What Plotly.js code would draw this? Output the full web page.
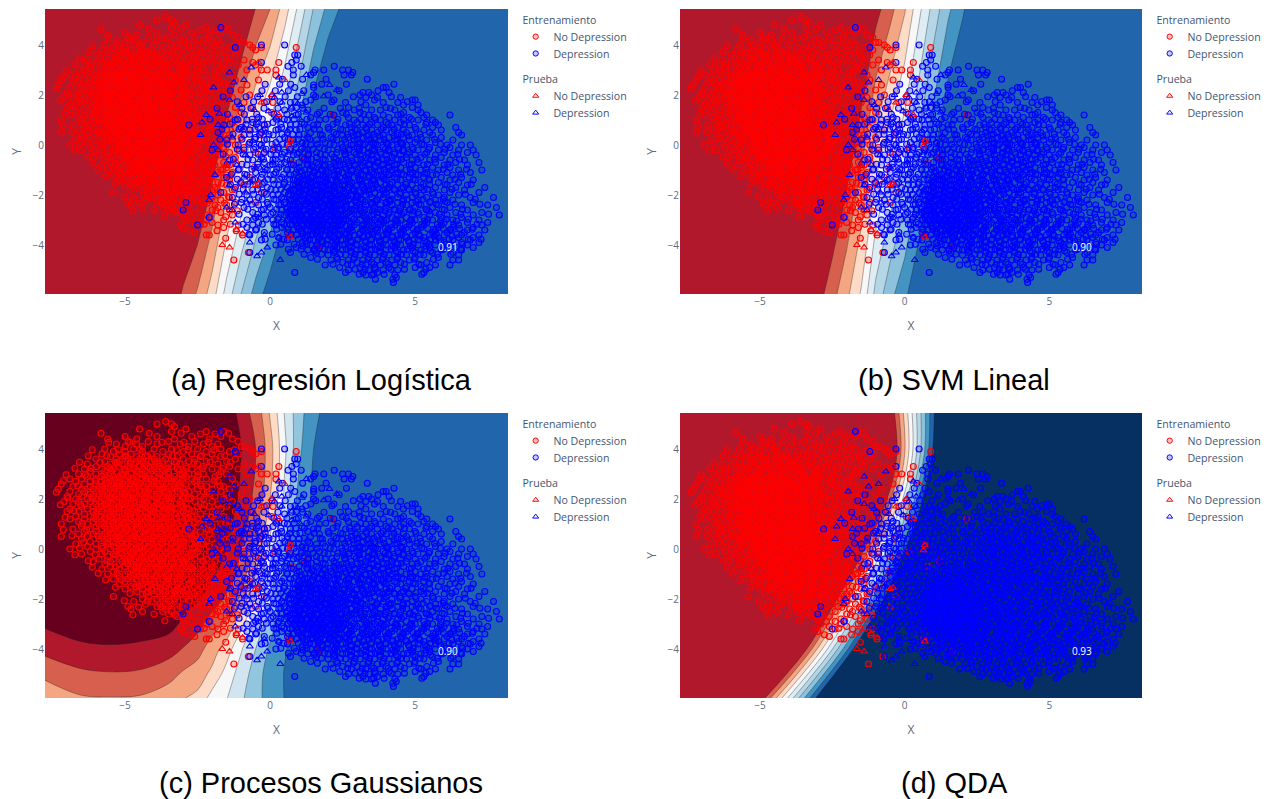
<!DOCTYPE html>
<html><head><meta charset="utf-8">
<script src="https://cdn.plot.ly/plotly-3.0.1.min.js"></script>
<style>html,body{margin:0;padding:0;background:#fff}</style></head>
<body><div id="g" style="width:1270px;height:799px"></div>
<script>
const captions=["(a) Regresión Logística","(b) SVM Lineal","(c) Procesos Gaussianos","(d) QDA"];
const scores=["0.91","0.90","0.90","0.93"];
const palA=["#b2182b","#d6604d","#f4a582","#fddbc7","#f7f7f7","#deecf4","#b4d6e7","#8ec2dc","#4393c3","#2166ac"];
const palC=["#67001f","#b2182b","#d6604d","#f4a582","#fddbc7","#f7f7f7","#d1e5f0","#92c5de","#4393c3","#2166ac"];
const palD=["#b2182b","#d6604d","#f4a582","#fddbc7","#f7f7f7","#deecf4","#b4d6e7","#8ec2dc","#4393c3","#2166ac","#053061"];
const linX=[-7.76,-3.5,-3,-2.5,-2,-1.5,-1,-.5,0,.5,1,1.5,2,2.5,3,8.2];
const linY=[-5.96,5.44];
const zA=[[-12.1,-.2,1.2,2.13,3.5,5.39,7,8.4,9.6,11,12.3,13.8,15.2,16.6,18,32.5],
[-18.5,-7.05,-5.7,-4.35,-3,-1.65,-.3,1.04,2,3.5,5.3,7.06,8.3,9.24,10.6,24.6]];
const zB=[[-12.3,-.8,.54,1.63,2.76,4.11,6.29,7.68,8.73,10,11.3,12.7,14,15.4,16.7,30.7],
[-17.6,-6.1,-4.8,-3.4,-2.1,-.7,.62,1.65,2.89,4.75,6.4,7.8,8.81,10.1,11.4,25.5]];
const cX=[-7.76,-6.5,-5.5,-4.5,-3.5,-3,-2.5,-2,-1.5,-1,-.5,-.25,0,.25,.5,.75,1,1.5,2,8.2];
const cY=[-5.96,-5,-4,-3,-2,-1,0,1,2,4,5.44];
const zC=[
[3.7,3.1,3.05,3.1,3.6,3.95,4.25,5.4,5.95,6.83,7.65,8.04,8.37,8.7,9.03,9.2,9.4,9.5,9.6,9.9],
[2.75,2.2,2.08,2.15,2.6,3.15,3.5,4.25,5.4,6.47,7.46,8,8.35,8.7,9.05,9.2,9.4,9.5,9.6,9.9],
[1.7,1.25,1.15,1.25,1.6,2.05,2.62,3.5,4.5,5.9,7,7.62,8.15,8.54,8.92,9.2,9.35,9.5,9.6,9.9],
[.85,.4,.3,.4,.6,1.2,1.65,2.55,3.15,4.67,6.25,6.88,7.57,8.18,8.61,9.05,9.3,9.5,9.6,9.9],
[.3,.2,.1,.1,.3,.6,.9,1.4,2.2,3.2,5.16,6,6.83,7.8,8.42,8.94,9.2,9.45,9.6,9.9],
[.1,.1,.1,.1,.1,.2,.4,.85,1.4,2.44,4,5,6.25,7.4,8.22,8.78,9.1,9.45,9.6,9.9],
[.1,.1,.1,.1,.1,.1,.2,.3,1,2,3.2,4.25,5.5,6.75,7.8,8.44,9,9.4,9.6,9.9],
[.1,.1,.1,.1,.1,.1,.15,.2,.7,1.5,2.71,3.6,4.6,5.75,7,8.11,8.67,9.3,9.5,9.9],
[.1,.1,.1,.1,.1,.1,.1,.2,.4,1.2,2.29,3,4,5,6.25,7.5,8.33,9.2,9.5,9.9],
[.1,.1,.1,.1,.1,.1,.1,.2,.4,.95,2,2.71,3.6,4.68,5.78,6.8,7.8,9,9.4,9.9],
[.1,.1,.1,.1,.1,.1,.1,.15,.3,1.39,2.46,3.12,4.11,5.04,6.06,6.87,7.6,8.78,9.3,9.9]];
const dX=[-7.76,8.2];
const dY=[-5.96,-5,-4,-3,-2,-1,0,1,2,3,4,5.44];
const zD=[[-14.13,68.03],[-19.04,67.81],[-23.53,65.88],[-26.61,62.79],[-29.41,59.99],[-34.25,60.75],[-39.41,61.92],[-45.32,63.26],[-51.39,65.53],[-55.36,66.24],[-53.95,62.97],[-47.68,57.15]];
// scatter readings: each row is [y, x, x, ...]
const redTrainRows=[
[5.1,-3.6],[5,-3.9,-3.4],[4.9,-3.3],[4.8,-4.5,-2.9],[4.7,-3.4,-2.2,-1.6],[4.6,-2.4,-1.9],[4.5,-5,-3.9,-2.7,-1.7],[4.4,-5.6,-4.6,-3.3,-2.1,-1.3],[4.3,-4.9,-4.2,-3.5,-2.6,-1.1],[4.2,-5.3,-4.6,-3.9,-3.1,-2.3,-1.8],[4.1,-5,-4.4,-2.8,-2,-1,-.9],[4,-5.7,-4.7,-4,-3.4,-2.5,-1.7,-.7],[3.9,-5.4,-5,-4.4,-3.7,-3,-2.2,-1.4,-.6],[3.8,-5.8,-5.2,-4.8,-4.1,-3.5,-2.7,-2,-1.1,-.5],[3.7,-5.5,-5,-4.6,-4.3,-3.9,-3.2,-2.4,-1.7],[3.6,-6,-5.3,-4.9,-4.5,-4,-3.6,-3,-2.6,-1.9,-1.2],[3.5,-5.7,-5.2,-4.8,-4.4,-4.1,-3.7,-3.3,-2.8,-2.2,-1.5],[3.4,-6.3,-5.5,-5.1,-4.7,-4.3,-3.9,-3.5,-3.1,-2.5,-1.8,-.9],[3.3,-6,-5.6,-5.2,-4.9,-4.5,-4.2,-3.8,-3.4,-2.9,-2.3,-1.4,-.6],[3.2,-6.4,-5.8,-5.4,-5,-4.7,-4.4,-4,-3.7,-3.2,-2.7,-2,-1.1,-.5],[3.1,-6.2,-5.7,-5.3,-5,-4.6,-4.3,-3.9,-3.5,-3,-2.5,-1.7],
[3,-6.6,-6,-5.5,-5.1,-4.8,-4.5,-4.2,-3.8,-3.5,-3.1,-2.8,-2.3,-1.5,-.8,-.3],[2.9,-6.3,-5.8,-5.4,-5.2,-4.9,-4.6,-4.3,-4,-3.6,-3.3,-2.9,-2.5,-1.9],[2.8,-6.9,-6.5,-6,-5.7,-5.3,-5,-4.7,-4.4,-4.1,-3.8,-3.5,-3.2,-2.7,-2.2,-1.3,.2],[2.7,-6.7,-6.2,-5.8,-5.5,-5.2,-4.9,-4.6,-4.3,-4,-3.7,-3.4,-3,-2.6,-1.8],[2.6,-7.2,-6.4,-6,-5.7,-5.4,-5.1,-4.8,-4.5,-4.2,-3.9,-3.6,-3.3,-2.9,-2.4,-2,-1.2,-.4],[2.5,-6.8,-6.2,-5.9,-5.6,-5.3,-5,-4.7,-4.4,-4.1,-3.8,-3.5,-3.1,-2.7,-2.2,-1.6],[2.4,-7.3,-6.5,-6.1,-5.8,-5.5,-5.2,-4.9,-4.6,-4.3,-4,-3.7,-3.4,-3,-2.5,-2,-1.4,-.8],[2.3,-6.9,-6.4,-6,-5.7,-5.4,-5.1,-4.8,-4.5,-4.2,-3.9,-3.6,-3.2,-2.8,-2.3,-1.7],[2.2,-6.6,-6.2,-5.9,-5.6,-5.3,-5,-4.7,-4.4,-4.1,-3.8,-3.5,-3.1,-2.6,-2.1,-1.5,-1],[2.1,-7,-6.5,-6.1,-5.8,-5.5,-5.2,-4.9,-4.6,-4.3,-4,-3.7,-3.4,-3,-2.4,-1.9],[2,-6.7,-6.3,-6,-5.7,-5.4,-5.1,-4.8,-4.5,-4.2,-3.9,-3.6,-3.2,-2.8,-2.3,-1.6,-.7],[1.9,-7.1,-6.6,-6.2,-5.9,-5.6,-5.3,-5,-4.7,-4.4,-4.1,-3.8,-3.5,-3.1,-2.6,-2,-1.3],[1.8,-6.8,-6.4,-6,-5.7,-5.4,-5.1,-4.8,-4.5,-4.2,-3.9,-3.6,-3.3,-2.9,-2.4,-1.8],[1.7,-6.5,-6.1,-5.8,-5.5,-5.2,-4.9,-4.6,-4.3,-4,-3.7,-3.4,-3,-2.5,-2.1,-1.5,-.9],[1.6,-6.9,-6.3,-5.9,-5.6,-5.3,-5,-4.7,-4.4,-4.1,-3.8,-3.5,-3.2,-2.8,-2.3,-1.7],[1.5,-7,-6.6,-6.1,-5.8,-5.5,-5.2,-4.9,-4.6,-4.3,-4,-3.7,-3.4,-3,-2.6,-2,-1.2,-.6],[1.4,-6.4,-6,-5.7,-5.4,-5.1,-4.8,-4.5,-4.2,-3.9,-3.6,-3.3,-2.9,-2.4,-1.8],[1.3,-6.7,-6.2,-5.9,-5.6,-5.3,-5,-4.7,-4.4,-4.1,-3.8,-3.5,-3.1,-2.7,-2.2,-1.6,-1],[1.2,-6.9,-6.4,-6,-5.7,-5.4,-5.1,-4.8,-4.5,-4.2,-3.9,-3.6,-3.3,-2.9,-2.5,-1.9],[1.1,-6.6,-6.1,-5.8,-5.5,-5.2,-4.9,-4.6,-4.3,-4,-3.7,-3.4,-3,-2.6,-2.1,-1.4],[1,-7.2,-6.3,-5.9,-5.6,-5.3,-5,-4.7,-4.4,-4.1,-3.8,-3.5,-3.2,-2.8,-2.3,-1.7,-1.1],[.9,-6.5,-6,-5.7,-5.4,-5.1,-4.8,-4.5,-4.2,-3.9,-3.6,-3.3,-2.9,-2.5,-2,-1.3],[.8,-6.8,-6.2,-5.8,-5.5,-5.2,-4.9,-4.6,-4.3,-4,-3.7,-3.4,-3.1,-2.7,-2.2,-1.6],[.7,-6.4,-6,-5.6,-5.3,-5,-4.7,-4.4,-4.1,-3.8,-3.5,-3.2,-2.8,-2.4,-1.9,-1.2],[.6,-6.6,-6.1,-5.7,-5.4,-5.1,-4.8,-4.5,-4.2,-3.9,-3.6,-3.3,-3,-2.6,-2.1,-1.5,-.7],[.5,-7.2,-6.3,-5.8,-5.5,-5.2,-4.9,-4.6,-4.3,-4,-3.7,-3.4,-3.1,-2.7,-2.3,-1.8],[.4,-6.5,-5.9,-5.6,-5.3,-5,-4.7,-4.4,-4.1,-3.8,-3.5,-3.2,-2.8,-2.4,-2,-1.4],[.3,-6.2,-5.7,-5.4,-5.1,-4.8,-4.5,-4.2,-3.9,-3.6,-3.3,-3,-2.6,-2.2,-1.7,-1],[.2,-6.7,-6,-5.6,-5.2,-4.9,-4.6,-4.3,-4,-3.7,-3.4,-3.1,-2.7,-2.3,-1.9,-1.3],[.1,-6.3,-5.8,-5.4,-5.1,-4.8,-4.5,-4.2,-3.9,-3.6,-3.3,-3,-2.6,-2.1,-1.6],[0,-6.9,-6,-5.5,-5.2,-4.9,-4.6,-4.3,-4,-3.7,-3.4,-3.1,-2.8,-2.4,-1.9,-1.2],
[-.1,-6.2,-5.7,-5.3,-5,-4.7,-4.4,-4.1,-3.8,-3.5,-3.2,-2.9,-2.5,-2.1,-1.6,-.9],[-.2,-6.5,-5.8,-5.4,-5.1,-4.8,-4.5,-4.2,-3.9,-3.6,-3.3,-3,-2.6,-2.2,-1.8],[-.3,-5.6,-5.2,-4.9,-4.6,-4.3,-4,-3.7,-3.4,-3.1,-2.8,-2.4,-2,-1.4],[-.4,-5.9,-5.4,-5,-4.7,-4.4,-4.1,-3.8,-3.5,-3.2,-2.9,-2.6,-2.2,-1.7],[-.5,-6.1,-5.5,-5.1,-4.8,-4.5,-4.2,-3.9,-3.6,-3.3,-3,-2.7,-2.3,-1.9,-1.2],[-.6,-5.7,-5.2,-4.9,-4.6,-4.3,-4,-3.7,-3.4,-3.1,-2.8,-2.4,-2],[-.7,-5.5,-5,-4.7,-4.4,-4.1,-3.8,-3.5,-3.2,-2.9,-2.6,-2.2,-1.6],[-.8,-5.8,-5.2,-4.8,-4.5,-4.2,-3.9,-3.6,-3.3,-3,-2.7,-2.3,-1.9,-1.4],[-.9,-5.4,-4.9,-4.6,-4.3,-4,-3.7,-3.4,-3.1,-2.8,-2.4,-2,-1.5],[-1,-5.6,-5,-4.7,-4.4,-4.1,-3.8,-3.5,-3.2,-2.9,-2.5,-2.1,-1.7],[-1.1,-5.2,-4.8,-4.5,-4.2,-3.9,-3.6,-3.3,-3,-2.6,-2.2,-1.8,-1.3],[-1.2,-5.4,-4.9,-4.6,-4.3,-4,-3.7,-3.4,-3.1,-2.7,-2.3,-1.9,-1.5],[-1.3,-5,-4.6,-4.3,-4,-3.7,-3.4,-3.1,-2.7,-2.4,-2,-1.6],[-1.4,-5.2,-4.7,-4.4,-4.1,-3.8,-3.5,-3.2,-2.8,-2.5,-2.1,-1.4],[-1.5,-4.8,-4.5,-4.2,-3.9,-3.6,-3.3,-3,-2.6,-2.2,-1.8],[-1.6,-5,-4.4,-4.1,-3.8,-3.5,-3.2,-2.9,-2.5,-2.1,-1.5,-.9],[-1.7,-4.6,-4.2,-3.9,-3.6,-3.3,-3,-2.7,-2.3,-1.9],[-1.8,-4.4,-4,-3.7,-3.4,-3.1,-2.8,-2.4,-2,-1.3],[-1.9,-5.4,-4.2,-3.8,-3.5,-3.2,-2.9,-2.5,-2.1,-1.6],[-2,-4.4,-3.9,-3.6,-3.3,-3,-2.6,-2.2,-1.8],[-2.1,-4.7,-4.1,-3.7,-3.3,-2.8,-2.4,-2,-1.4],[-2.2,-4.3,-3.8,-3.4,-3,-2.5,-2.1,-1.7],[-2.3,-4.9,-3.9,-3.5,-3.1,-2.7,-2.3,-1.2],[-2.4,-4.8,-3.6,-3.2,-2.8,-1.9,-1.5],[-2.5,-4.4,-3.7,-3.4,-2.4,-1.8],[-2.6,-4,-3.5,-3,-2,-1.4],[-2.7,-3.2,-2.6,-1.7],[-2.8,-3,-2.2,-1.3],[-2.9,-2.7,-2.4],[-3,-2.9,-2.2,-1.6],[-3.1,-2.6,-2],[-3.2,-2.4,-1.8,-1.1],[-3.3,-3,-1.6],[-3.5,-2.6],[-3.6,-2.2,-2.1,-.95],[-4.3,-.75],[-4.6,-1.25],[-3.6,.65],[-4.1,1.65],[1.2,2.15],[3.9,-.3,.9],[3.3,.3],[3,-.1,.2],[.2,.7],[-.1,.15],[-.5,1.2],[-.7,.8],[1.7,.1,-.2],[1.3,.05],[.8,-.2],[.4,-.35],[-.3,-.5,-.2],[-.9,-.55],[-1.3,-.7],[-1.9,-.3],[-2.3,-.5]];
const redExtraRows=[
[4.63,-5.83,-4.17,-3.07,-1.43],[4.27,-5.57,-4.83,-3.73,-2.97,-2.13],[3.97,-6.13,-5.23,-4.47,-3.23,-2.83,-1.93,-1.23],[3.73,-6.27,-5.63,-4.97,-4.23,-3.37,-2.37,-1.57],[3.47,-6.57,-5.87,-5.33,-4.63,-3.97,-3.23,-2.63,-2.07,-1.37],[3.23,-6.73,-6.17,-5.53,-4.83,-4.13,-3.57,-2.87,-2.33,-1.63],[2.97,-7.03,-6.37,-5.73,-5.07,-4.37,-3.67,-3.03,-2.47,-1.77],[2.73,-7.13,-6.03,-5.43,-4.77,-4.07,-3.27,-2.53,-1.93],[2.53,-6.63,-5.77,-5.17,-4.53,-3.83,-3.17,-2.37,-1.73],[2.27,-7.37,-6.27,-5.63,-4.93,-4.33,-3.67,-2.97,-2.17],[2.03,-6.97,-6.13,-5.47,-4.87,-4.27,-3.53,-2.73,-1.47],[1.77,-7.23,-6.53,-5.67,-5.03,-4.37,-3.73,-3.07,-2.27],[1.53,-6.77,-5.97,-5.37,-4.73,-4.13,-3.47,-2.67,-1.87],[1.27,-7.07,-6.07,-5.47,-4.83,-4.23,-3.57,-2.83,-2.03],[1.03,-6.47,-5.73,-5.07,-4.57,-3.93,-3.27,-2.43,-1.53],[.77,-7.13,-6.33,-5.53,-4.93,-4.27,-3.63,-2.93,-2.13],[.53,-6.83,-5.93,-5.27,-4.67,-4.03,-3.37,-2.57,-1.67],[.27,-6.43,-5.63,-4.97,-4.33,-3.73,-3.07,-2.33,-1.47],[.03,-6.57,-5.77,-5.13,-4.53,-3.87,-3.23,-2.47,-1.73],[-.23,-6.73,-6.03,-5.33,-4.73,-4.07,-3.43,-2.67,-1.93,-1.07],[-.47,-6.27,-5.63,-4.97,-4.37,-3.77,-3.03,-2.33,-1.53],[-.73,-6.13,-5.33,-4.57,-3.93,-3.33,-2.73,-2.03,-1.17],[-.97,-5.93,-5.27,-4.43,-3.73,-3.07,-2.27,-1.63],[-1.23,-5.67,-5.13,-4.13,-3.53,-2.83,-2.07,-1.37],[-1.53,-5.33,-4.63,-3.77,-3.07,-2.37,-1.67,-1.03],[-1.77,-4.83,-4.27,-3.27,-2.63,-1.83,-1.23],[-2.07,-5.03,-4.23,-3.47,-2.77,-2.03,-1.43],[-2.33,-4.53,-3.73,-3.03,-2.17,-1.57],[-2.63,-4.73,-3.27,-2.83,-1.87,-1.13],[-2.87,-3.63,-2.97,-2.07,-1.53],[-3.17,-3.07,-2.27,-1.37],[-3.43,-2.77,-1.83,-1.17],[-3.73,-1.53]];
const redCoreRows=[
[3.44,-5.27,-4.83,-4.37,-3.83],[3.14,-5.47,-5.03,-4.57,-4.07,-3.63,-3.13],[2.84,-5.53,-5.13,-4.73,-4.27,-3.87,-3.43,-3],[2.64,-5.63,-5.23,-4.83,-4.47,-4.03,-3.57,-3.13],[2.44,-5.37,-5.07,-4.67,-4.17,-3.73,-3.27],[2.24,-5.77,-5.43,-5.03,-4.63,-4.23,-3.83,-3.37,-2.93],[2.04,-5.53,-5.17,-4.73,-4.33,-3.93,-3.47,-3.03],[1.84,-5.83,-5.47,-5.07,-4.67,-4.27,-3.87,-3.43,-3.03],[1.64,-5.57,-5.23,-4.83,-4.47,-4.03,-3.63,-3.27,-2.87],[1.44,-5.43,-5.03,-4.63,-4.27,-3.83,-3.43,-3.07],[1.24,-5.67,-5.27,-4.87,-4.43,-4.07,-3.67,-3.23,-2.83],[1.04,-5.43,-5.03,-4.63,-4.23,-3.83,-3.47,-3.03,-2.63],[.84,-5.33,-4.97,-4.57,-4.13,-3.77,-3.33,-2.93],[.64,-5.47,-5.07,-4.67,-4.33,-3.93,-3.53,-3.13,-2.73],[.44,-5.17,-4.77,-4.43,-4.03,-3.63,-3.27,-2.87],[.24,-5.33,-4.93,-4.53,-4.13,-3.77,-3.37,-2.97,-2.57],[.04,-5.03,-4.63,-4.23,-3.83,-3.43,-3.07,-2.67],[-.16,-5.13,-4.77,-4.37,-3.97,-3.57,-3.17,-2.73],[-.36,-4.83,-4.43,-4.07,-3.67,-3.27,-2.87],[-.56,-4.93,-4.53,-4.13,-3.73,-3.37,-2.97],[-.76,-4.63,-4.27,-3.87,-3.47,-3.07,-2.67],[-1.06,-4.73,-4.33,-3.93,-3.53,-3.13],[-1.36,-4.37,-3.97,-3.57,-3.17,-2.77],[-1.66,-4.07,-3.67,-3.27,-2.87]];
const blueTrainRows=[
[4.7,-1.7],[4,-.3,.5],[3.9,-1.2],[3.6,.85,.95],[3.4,.9],[3.3,.75,-.3],[3,.8,1.55,1.85,2.5,2.7],[2.9,1.5,2.85],[2.8,.8,1.4,2.55,2.8],[2.4,1.5],[2.3,.85,1.5,3.9,4],[2.1,3.2,3.4,4.1],[2,1.5,2,3.1,3.5],[1.9,3.3,3.7,4.5],[1.8,1.4,2.2,3.6,4.9,5],[1.7,.7,2.6,3.9,4.4],[1.6,1.1,3.3,4.6,5.1],[1.5,.9,2.7,4,4.9],[1.4,.5,1.3,2.9,3.5,3.8,4.3,5.1],[1.3,1.7,2.5,3.1,4.6,5.2],[1.2,.9,2.2,3.4,3.9,4.4,5.4,6.2],[1.1,-.4,.3,1.4,2.7,3.6,4.1,4.8,5.3],[1,-1.2,-.8,.6,1.7,2.9,3.3,3.8,4.3,4.6,5.1,5.6],[.9,-.6,.1,1.1,2.3,3,3.5,4,4.5,5.4,5.7],[.8,-2.8,-1.6,-.2,.7,1.5,2.6,3.2,3.7,4.2,4.8,5.8],[.7,-1,-.4,.4,1.3,2,2.8,3.3,3.9,4.4,5,5.6,6.4],[.6,-.7,.2,.9,1.7,2.5,3,3.5,4,4.6,5.3,5.9],[.5,-1.8,-.3,.6,1.4,2.2,2.8,3.2,3.7,4.2,4.7,5.5,6.5],[.4,-.9,.1,1,1.8,2.5,3,3.4,3.9,4.4,4.9,5.6,6.6],[.3,-.5,.5,1.3,2.1,2.7,3.2,3.6,4.1,4.6,5.2,5.9],[.2,-1.5,-.2,.8,1.6,2.3,2.9,3.4,3.8,4.3,4.8,5.4,6.3],[.1,-.7,.2,1.1,1.9,2.6,3.1,3.5,4,4.5,5,5.7],[0,-1.1,-.3,.6,1.4,2.2,2.8,3.2,3.7,4.2,4.7,5.3,6.1,6.6,6.9],[-.1,-.5,.3,.9,1.7,2.5,3,3.4,3.9,4.4,4.9,5.5,6.2],[-.2,-2,-.9,.1,.7,1.3,2,2.7,3.2,3.6,4.1,4.6,5.1,5.8,6.5,7],[-.3,-.2,.5,1,1.6,2.3,2.9,3.4,3.8,4.3,4.8,5.4,6,6.8],[-.4,-.7,.2,.8,1.3,1.9,2.6,3.1,3.5,4,4.5,5,5.7,6.3,7.1],[-.5,-.3,.4,1.1,1.6,2.2,2.8,3.3,3.7,4.2,4.7,5.2,5.9],[-.6,-1.4,-.6,.1,.7,1.3,1.9,2.5,3,3.5,3.9,4.4,4.9,5.5,6.2,6.7],[-.7,-.2,.5,1,1.6,2.2,2.7,3.2,3.7,4.1,4.6,5.1,5.7,6.4,7.2],[-.8,-.8,0,.8,1.3,1.9,2.4,2.9,3.4,3.9,4.3,4.8,5.3,6,6.8],[-.9,-.4,.3,1,1.5,2.1,2.6,3.1,3.6,4.1,4.5,5,5.6,6.2],[-1,-1.1,-.1,.6,1.2,1.8,2.3,2.8,3.3,3.8,4.2,4.7,5.2,5.8,6.5,7.3],[-1.1,-.5,.2,.9,1.5,2,2.5,3,3.5,4,4.4,4.9,5.4,6.1,6.9],[-1.2,-.8,0,.7,1.2,1.7,2.2,2.7,3.2,3.7,4.1,4.6,5.1,5.6,6.3],[-1.3,-1.5,-.3,.4,1,1.4,1.9,2.4,2.9,3.4,3.9,4.3,4.8,5.3,5.9,6.6],[-1.4,-.6,.1,.8,1.2,1.7,2.1,2.6,3.1,3.6,4,4.5,5,5.5,6.2,7],[-1.5,-1,-.2,.5,1,1.4,1.9,2.3,2.8,3.3,3.8,4.2,4.7,5.2,5.8,6.5],[-1.6,-.4,.3,.8,1.2,1.6,2.1,2.5,3,3.5,4,4.4,4.9,5.5,6.1,6.8],[-1.7,-1.2,-.1,.6,1,1.4,1.8,2.2,2.7,3.2,3.7,4.1,4.6,5.2,5.7,6.4,7.4],[-1.8,-.6,.2,.8,1.2,1.6,2,2.4,2.9,3.4,3.9,4.3,4.8,5.3,6,6.7],[-1.9,-1.7,-.2,.5,1,1.4,1.8,2.2,2.6,3.1,3.6,4,4.5,5,5.6,6.2,7.2],[-2,-.8,.1,.7,1.2,1.6,2,2.4,2.8,3.3,3.8,4.2,4.7,5.2,5.8,6.5],[-2.1,-1.3,-.4,.4,.9,1.3,1.7,2.1,2.5,3,3.5,3.9,4.4,4.9,5.4,6,6.9,7.7],[-2.2,-.7,.2,.7,1.1,1.5,1.9,2.3,2.7,3.2,3.7,4.1,4.6,5.1,5.7,6.3],[-2.3,-2.9,-1,-.1,.5,.9,1.3,1.7,2.1,2.5,3,3.5,4,4.4,4.9,5.5,6.1,7],[-2.4,-.4,.3,.8,1.2,1.6,2,2.4,2.8,3.3,3.8,4.2,4.7,5.2,5.8,6.6,7.5],[-2.5,-.9,0,.6,1,1.4,1.8,2.2,2.6,3.1,3.6,4,4.5,5,5.6,6.2,7.8],[-2.6,-3,-.3,.4,.8,1.2,1.6,2,2.4,2.9,3.4,3.8,4.3,4.8,5.4,6,6.8],[-2.7,-.6,.1,.6,1,1.4,1.8,2.2,2.7,3.2,3.7,4.1,4.6,5.1,5.7,6.4,7.3],[-2.8,-.2,.5,.9,1.3,1.7,2.1,2.5,3,3.5,3.9,4.4,4.9,5.5,6.1,7,7.9],[-2.9,-2.1,-.5,.3,.7,1.1,1.5,1.9,2.3,2.8,3.3,3.7,4.2,4.7,5.3,5.9,6.6],[-3,-.8,.1,.6,1,1.4,1.8,2.2,2.6,3.1,3.6,4,4.5,5,5.6,6.3,7.2],[-3.1,-.4,.4,.9,1.3,1.7,2.1,2.5,3,3.5,3.9,4.4,4.9,5.4,6,6.8,7.5],[-3.2,-2.5,-.6,.2,.7,1.1,1.6,2,2.4,2.9,3.4,3.8,4.3,4.8,5.3,5.9,6.5,7.3],[-3.3,-.8,.4,1,1.5,1.9,2.3,2.8,3.3,3.7,4.2,4.7,5.2,5.8,6.3,7],[-3.4,-.5,.8,1.3,1.8,2.2,2.7,3.2,3.7,4.1,4.6,5.1,5.7,6.2,6.8,7.4],[-3.5,-.2,.6,1.1,1.6,2.1,2.6,3.1,3.5,4,4.5,5,5.6,6.1,6.7],[-3.6,-.7,.9,1.4,1.9,2.4,2.9,3.4,3.9,4.4,4.9,5.5,6,6.6,7.2],[-3.7,.3,1.2,1.7,2.2,2.7,3.2,3.7,4.2,4.7,5.3,5.8,6.5,7],[-3.8,-.3,.6,1.5,2,2.5,3,3.5,4,4.5,5.1,5.7,6.3,6.9],[-3.9,1.1,1.8,2.3,2.8,3.3,3.8,4.3,4.8,5.4,6,6.6,7.2],[-4,.2,1.4,2,2.5,3,3.5,4,4.5,5.1,5.7,6.2,6.8],[-4.1,.9,1.7,2.3,2.8,3.3,3.8,4.3,4.9,5.5,6.4,7],[-4.2,1.3,2,2.5,3,3.5,4,4.6,5.2,5.9,6.6],[-4.3,-.7,.7,1.6,2.2,2.8,3.3,3.8,4.4,5,5.6,6.3],[-4.4,2,2.6,3.1,3.6,4.1,4.7,5.3,6.5],[-4.5,1.4,2.3,2.9,3.4,3.9,4.4,5,5.8],[-4.6,2.1,2.7,3.2,3.7,4.2,4.8,6.3,6.5],[-4.7,2.5,3,3.5,4,4.5,5.4],[-4.8,1.9,2.8,3.3,3.8,4.3,5.2,5.7,6.2],[-4.9,2.4,3.1,3.6,4.1,5,5.5],[-5,2.7,3.4,3.9,4.4],[-5.1,.85,2.6,3.2,3.7,5.3],[-5.2,3.3,3.5,4.3],[-5.3,4.35],[-5.5,4.25]];
const blueExtraRows=[
[3.15,.62,1.07,2.21],[2.63,.42,1.12,1.93,3.35],[2.43,-.17,.33,.71,1.78,2.63,4.27],[2.17,-1.37,-.28,.18,.63,1.16,2.38,3.72],[1.93,-1.62,-.83,-.43,.07,.52,.94,1.57,2.87,4.18],[1.73,-1.13,-.57,-.12,.34,.86,1.23,2.13,3.13,4.73],[1.47,-1.83,-.97,-.66,-.21,.27,.73,1.12,1.86,2.42,3.07,4.15],[1.23,-1.47,-.89,-.46,.13,.58,.97,1.63,2.07,2.63,3.23,4.51],[1.03,-2.07,-1.13,-.62,-.27,.22,.49,.83,1.27,1.92,2.34,3.12,3.63,4.87],[.83,-1.38,-.83,-.47,-.09,.37,.88,1.18,1.64,2.17,2.74,3.43,4.07,4.63,5.37],[.63,-1.66,-1.07,-.52,-.17,.28,.67,1.03,1.52,2.03,2.43,2.93,3.33,3.83,4.27,5.03],[.43,-1.28,-.71,-.36,-.04,.41,.78,1.17,1.73,2.28,2.67,3.07,3.57,4.53,5.17],[.23,-1.73,-.97,-.53,-.11,.33,.62,.97,1.37,1.83,2.17,2.57,3.02,3.47,3.93,4.37,5.07,5.67],[.03,-1.47,-.73,-.37,.07,.43,.83,1.23,1.63,2.07,2.47,2.87,3.27,3.63,4.07,4.57,5.23,5.87],[-.17,-1.13,-.57,-.14,.27,.67,1.07,1.47,1.87,2.33,2.73,3.07,3.53,3.97,4.43,4.93,5.47,6.03],[-.37,-1.62,-.93,-.41,.03,.42,.93,1.33,1.73,2.13,2.57,2.97,3.37,3.83,4.27,4.73,5.33,6.47],[-.57,-1.27,-.76,-.23,.18,.57,1.17,1.43,1.83,2.27,2.63,3.13,3.57,4.03,4.53,5.07,5.67,6.53],[-.77,-1.48,-.97,-.43,.08,.37,.73,1.27,1.67,2.07,2.53,2.93,3.43,3.87,4.37,4.87,5.43,6.13],[-.97,-1.07,-.63,-.17,.23,.57,.93,1.37,1.77,2.17,2.63,3.03,3.47,3.93,4.33,4.83,5.37,5.97,6.77],[-1.17,-1.33,-.87,-.27,.13,.47,.83,1.27,1.63,1.93,2.33,2.73,3.13,3.57,4.07,4.53,5.03,5.73,6.57],[-1.37,-1.13,-.53,-.07,.33,.67,1.07,1.33,1.63,1.97,2.27,2.67,3.07,3.53,3.93,4.37,4.93,5.47,6.37],[-1.57,-1.37,-.77,-.27,.13,.47,.87,1.13,1.43,1.77,2.03,2.37,2.73,3.17,3.63,4.13,4.67,5.27,6.03,6.93],[-1.77,-.93,-.43,.03,.37,.73,1.07,1.27,1.57,1.87,2.13,2.47,2.83,3.27,3.77,4.27,4.77,5.43,6.27],[-1.97,-1.07,-.57,-.13,.27,.63,.93,1.17,1.47,1.73,1.97,2.27,2.57,2.97,3.43,3.93,4.47,5.03,5.63,6.73],[-2.17,-.97,-.27,.13,.47,.83,1.07,1.37,1.63,1.87,2.17,2.43,2.77,3.13,3.67,4.17,4.73,5.27,5.97,7.07],[-2.37,-1.23,-.63,-.07,.37,.67,.97,1.23,1.47,1.73,2.03,2.27,2.63,3.07,3.53,4.03,4.57,5.13,5.73,6.37,7.23],[-2.57,-.77,-.23,.23,.57,.87,1.13,1.37,1.63,1.93,2.13,2.47,2.83,3.27,3.73,4.27,4.83,5.37,5.93,6.63],[-2.77,-1.07,-.43,.03,.37,.73,1.03,1.27,1.53,1.77,2.03,2.33,2.63,3.07,3.57,4.07,4.53,5.13,5.83,6.57,7.53],[-2.97,-.57,-.13,.27,.63,.87,1.17,1.43,1.67,1.93,2.27,2.53,2.87,3.33,3.83,4.33,4.87,5.43,6.07,6.83],[-3.17,-.93,-.27,.13,.47,.77,1.07,1.33,1.57,1.83,2.17,2.47,2.77,3.23,3.73,4.17,4.67,5.23,5.77,6.33,7.13],[-3.37,-.47,.23,.63,.97,1.23,1.53,1.77,2.07,2.37,2.73,3.17,3.63,4.07,4.57,5.07,5.63,6.23,6.97],[-3.57,-.73,.07,.73,1.13,1.47,1.73,2.03,2.33,2.63,3.07,3.53,4.03,4.53,5.13,5.73,6.43],[-3.77,-.17,.47,.97,1.37,1.67,1.97,2.27,2.63,3.03,3.47,3.97,4.43,4.97,5.53,6.17,6.83,7.27],[-3.97,.37,.83,1.27,1.63,1.93,2.23,2.57,2.97,3.43,3.87,4.37,4.93,5.47,6.07,6.63],[-4.17,.63,1.07,1.53,1.87,2.17,2.63,3.13,3.63,4.17,4.73,5.33,5.97,6.57],[-4.37,1.17,1.77,2.43,2.93,3.43,3.93,4.53,5.17,5.77,6.23],[-4.57,1.63,2.33,2.87,3.37,3.87,4.37,4.97,5.63],[-4.77,2.17,2.67,3.17,3.57,4.07,4.63,5.13],[-4.97,2.93,3.27,3.63,4.17,4.63,5.37],[-5.17,3.07,3.57,3.93,5.23],[-5.37,3.63,4.23]];
const blueCoreRows=[
[-.64,2.37,2.83,3.27,3.73,4.17],[-.84,1.43,1.83,2.27,2.73,3.17,3.63,4.07],[-1.04,1.07,1.53,1.93,2.37,2.83,3.27,3.73],[-1.24,1.13,1.47,1.83,2.23,2.63,3.03,3.43,3.83],[-1.44,.93,1.33,1.57,1.93,2.33,2.73,3.17,3.57],[-1.64,.97,1.27,1.53,1.83,2.17,2.57,2.97,3.37],[-1.84,.67,1,1.37,1.67,1.93,2.23,2.53,2.87,3.23],[-2.04,.83,1.07,1.33,1.53,1.77,2.07,2.33,2.67,3.03],[-2.24,.73,1,1.27,1.47,1.73,1.97,2.23,2.57,2.93],[-2.44,.87,1.07,1.37,1.57,1.83,2.07,2.33,2.63,2.97],[-2.64,.67,.93,1.13,1.43,1.67,1.87,2.13,2.43,2.77],[-2.84,.77,1.03,1.23,1.47,1.73,1.97,2.23,2.57,3.23],[-3.04,.83,1.07,1.33,1.57,1.83,2.07,2.37,2.73,3.33],[-3.24,.93,1.27,1.47,1.73,1.97,2.27,2.63,3.17],[-3.44,1.07,1.43,1.67,1.93,2.17,2.47,2.83,3.43],[-3.64,1.27,1.63,2.07,2.37,2.73,3.23,3.73],[-2.26,3.27,3.63,4.13,4.57,5.03,5.53,6.03],[-2.64,3.13,3.53,3.97,4.47,4.93,5.47],[-3.04,3.43,3.93,4.37,4.83,5.33,5.87,6.43],[-3.34,3.47,3.97,4.47,4.93,5.43,5.97,6.53],[-3.64,4.23,4.67,5.17,5.67,6.27],[-3.84,1.23,1.77,2.27,2.77,3.27,3.77,4.27,4.77,5.33,5.87],[-4.04,1.13,1.63,2.23,2.73,3.23,3.73,4.23,4.83,5.37,5.93],[-4.24,1.53,2.23,2.77,3.27,3.77,4.33,4.93,5.53],[-.24,2.57,3.07,3.57,4.07,4.57],[.06,3.07,3.57,4.03,4.53],[.36,2.87,3.33,3.77,4.27,4.77],[-1.14,4.33,4.83,5.33],[-1.74,3.53,4.03,4.53,5.03]];
const redTestRows=[[-4,-1.65],[-4.1,-1.4],[-3.4,-1.15],[-3.55,-.95],[-1.6,-.5],[-1.55,-.4],[.15,.7],[-.05,.65],[1.2,.3],[1.7,-.3],[2.6,.5],[-2.6,-1.4],[-.8,-1.5],[-2,-2.1],[3.3,-.4],[-3.7,.7],[2,.05]];
const blueTestRows=[[-4.6,.35],[-4.45,-.45],[-3.9,-.7],[-4.3,-.3],[-4.1,-.1],[-3.7,.3],[-3.6,-.2],[-3.1,-1.2],[-2.9,-.4],[-2.6,-1.3],[-2.5,-1.5],[-2.3,-.8],[-2.2,-2.1],[-2,-2.05],[-1.6,-1.4],[-1.5,-.7],[-1.3,-.9],[-1.2,-1.9],[-.9,-.5],[-.8,-1.15],[-.6,-.35],[-.4,-.85],[-.2,-1.8],[-.1,-.25],[0,-1.95],[.15,-.6],[.3,-1.3],[.5,-.15],[.7,-.9],[.9,-.4],[1.1,.2],[1.25,-1.75],[1.4,-.55],[1.5,.75],[1.6,-1.05],[1.9,.15],[2,-.35],[2.05,1.1],[2.1,.4],[2.3,-1.95],[2.5,-1.25],[2.6,-.9],[2.9,-1.4],[3.1,-.65],[2.7,.3],[2.8,1.25],[2.4,2.05],[2.2,2.3],[1.95,1.85],[1.8,-1.4],[1.2,-2.2],[.4,-2.4],[.8,-1.8],[.55,.6],[1,1.05],[1.65,.95],[1.3,1.25],[1.15,.75],[.9,-2.35],[.1,1.1],[-.3,.65],[-.7,.1],[-1.05,-.2],[-1.9,-.85],[1.7,.4],[1.35,-.05],[.6,-.95],[-.15,1.2]];
function flat(){const x=[],y=[];for(const rows of arguments)rows.forEach(r=>{for(let i=1;i<r.length;i++){x.push(r[i]);y.push(r[0]);}});return{x,y};}
const redT=flat(redTrainRows,redExtraRows,redCoreRows),blueT=flat(blueTrainRows,blueExtraRows,blueCoreRows),redP=flat(redTestRows),blueP=flat(blueTestRows);
const PW=1270,PH=799;
const panels=[{l:45,r:508,t:9,b:294,cx:321},{l:680,r:1142,t:9,b:294,cx:954},{l:45,r:508,t:413,b:698,cx:321},{l:680,r:1142,t:413,b:698,cx:954}];
const conts=[{x:linX,y:linY,z:zA,p:palA,s:0},{x:linX,y:linY,z:zB,p:palA,s:0},{x:cX,y:cY,z:zC,p:palC,s:1},{x:dX,y:dY,z:zD,p:palD,s:1}];
const capY=[380,380,783,783];
const data=[],layout={width:PW,height:PH,margin:{l:0,r:0,t:0,b:0,autoexpand:false},paper_bgcolor:"#fff",plot_bgcolor:"#fff",font:{family:"Open Sans",color:"#506784",size:12},showlegend:true,annotations:[],hovermode:false};
panels.forEach((p,i)=>{
 const n=i+1,sx=i?String(n):"",xa="x"+sx,ya="y"+sx,lg="legend"+sx;
 const c=conts[i],N=c.p.length;
 data.push({type:"contour",x:c.x,y:c.y,z:c.z,xaxis:xa,yaxis:ya,showscale:false,showlegend:false,hoverinfo:"skip",autocontour:false,
  contours:{start:1,end:N-1,size:1,coloring:"fill",showlines:true},line:{width:.7,color:"rgba(30,30,30,.5)",smoothing:c.s},
  colorscale:c.p.map((col,k)=>[k/(N-1),col])});
 const mk=(d,name,grp,title,sym,col,fill)=>({type:"scatter",mode:"markers",x:d.x,y:d.y,name:name,xaxis:xa,yaxis:ya,legend:lg,legendgroup:grp,legendgrouptitle:{text:title,font:{size:12,color:"#44546f"}},
  marker:{symbol:sym,size:6,color:fill,opacity:1,line:{color:col,width:1.1}}});
 data.push(mk(redT,"No Depression","train","Entrenamiento","circle","#ff0000","rgba(255,0,0,.22)"));
 data.push(mk(blueT,"Depression","train","Entrenamiento","circle","#0000ff","rgba(0,0,255,.22)"));
 data.push(mk(redP,"No Depression","test","Prueba","triangle-up","#ff0000","rgba(255,0,0,.05)"));
 data.push(mk(blueP,"Depression","test","Prueba","triangle-up","#0000ff","rgba(0,0,255,.05)"));
 const axf={family:"Open Sans",size:10,color:"#5b6b84"};
 layout["xaxis"+sx]={domain:[p.l/PW,p.r/PW],range:[-7.76,8.2],anchor:ya,showgrid:false,zeroline:false,showline:false,ticks:"",tickvals:[-5,0,5],tickfont:axf,title:{text:"X",font:{family:"Open Sans",size:12,color:"#5b6b84"},standoff:14}};
 layout["yaxis"+sx]={domain:[1-p.b/PH,1-p.t/PH],range:[-5.96,5.44],anchor:xa,showgrid:false,zeroline:false,showline:false,ticks:"",tickvals:[-4,-2,0,2,4],tickfont:axf,title:{text:"Y",font:{family:"Open Sans",size:12,color:"#5b6b84"},standoff:8}};
 layout[lg]={x:(p.r+10)/PW,y:1-(p.t-2)/PH,xanchor:"left",yanchor:"top",bgcolor:"rgba(0,0,0,0)",tracegroupgap:10,font:{family:"Open Sans",size:12,color:"#44546f"}};
 layout.annotations.push({xref:xa,yref:ya,x:6.14,y:-4.08,text:scores[i],showarrow:false,font:{family:"Open Sans",size:10,color:"#fff"}});
 layout.annotations.push({xref:"paper",yref:"paper",x:p.cx/PW,y:1-capY[i]/PH,xanchor:"center",yanchor:"middle",text:captions[i],showarrow:false,font:{family:"Liberation Sans",size:29,color:"#000"}});
});
Plotly.newPlot("g",data,layout,{displayModeBar:false}).then(()=>{
 document.querySelectorAll('.infolayer > g[class^="legend"]').forEach(g=>{g.setAttribute("transform",g.getAttribute("transform")+" scale(.885)");});
});
</script></body></html>
